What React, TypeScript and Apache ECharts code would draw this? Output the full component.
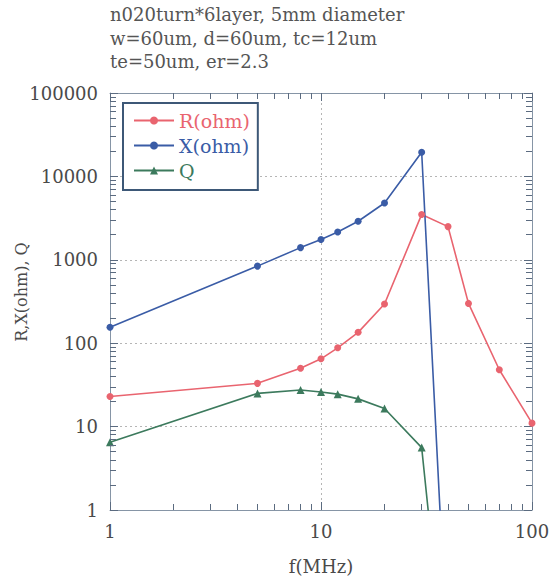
import React, { useEffect, useRef } from "react";
import * as echarts from "echarts";

const freqMHz = [1, 5, 8, 10, 12, 15, 20, 30, 40, 50, 70, 100];
const rOhm = [23, 33, 50, 65, 88, 135, 295, 3500, 2500, 300, 48, 11];
const xOhm = [155, 840, 1400, 1750, 2150, 2900, 4800, 19500, 0.013];
const qVal = [6.5, 25, 27.5, 26, 24.5, 21.5, 16.5, 5.6, 0.005];

const titleLines = [
  "n020turn*6layer, 5mm diameter",
  "w=60um, d=60um, tc=12um",
  "te=50um, er=2.3",
];
const yAxisName = "R,X(ohm), Q";
const xAxisName = "f(MHz)";
const xTickLabels = ["1", "10", "100"];
const yTickLabels = ["1", "10", "100", "1000", "10000", "100000"];
const xMinorTicks = [2, 3, 4, 5, 6, 7, 8, 9, 20, 30, 40, 50, 60, 70, 80, 90];
const yMinorTicks = [
  2, 3, 4, 5, 6, 7, 8, 9,
  20, 30, 40, 50, 60, 70, 80, 90,
  200, 300, 400, 500, 600, 700, 800, 900,
  2000, 3000, 4000, 5000, 6000, 7000, 8000, 9000,
  20000, 30000, 40000, 50000, 60000, 70000, 80000, 90000,
];

const RED = "#e9646f";
const BLUE = "#3a5ca6";
const GREEN = "#3c7a5d";
const AXIS = "#8695a6";
const TICK = "#5b6b80";
const FONT = "DejaVu Serif";

const pairs = (vals: number[]) => vals.map((v, i) => [freqMHz[i], v]);

export default function App() {
  const ref = useRef<HTMLDivElement>(null);
  useEffect(() => {
    if (!ref.current) return;
    const chart = echarts.init(ref.current, null, { renderer: "svg" });
    const xMin = 1, xMax = 100, yMin = 1, yMax = 100000;
    // minor tick lengths expressed as multiplicative factors on the log axes (~6px)
    const kY = Math.pow(10, 6 / 83.4);
    const kX = Math.pow(10, 6 / 211);
    const tickLines: any[] = [];
    xMinorTicks.forEach((v) => {
      tickLines.push([{ coord: [v, yMin] }, { coord: [v, yMin * kY] }]);
      tickLines.push([{ coord: [v, yMax] }, { coord: [v, yMax / kY] }]);
    });
    yMinorTicks.forEach((v) => {
      tickLines.push([{ coord: [xMin, v] }, { coord: [xMin * kX, v] }]);
      tickLines.push([{ coord: [xMax, v] }, { coord: [xMax / kX, v] }]);
    });
    const logAxisCommon = {
      type: "log" as const,
      logBase: 10,
      axisLine: { show: true, lineStyle: { color: AXIS, width: 1 } },
      axisTick: { show: true, inside: true, length: 8, lineStyle: { color: TICK } },
    };
    chart.setOption({
      animation: false,
      backgroundColor: "#ffffff",
      title: {
        text: titleLines.join("\n"),
        left: 110,
        top: 3,
        padding: 0,
        textStyle: {
          fontFamily: FONT,
          fontSize: 18,
          fontWeight: "normal",
          color: "#555555",
          lineHeight: 23.5,
        },
      },
      graphic: [
        {
          type: "text",
          x: 21,
          y: 292,
          rotation: Math.PI / 2,
          style: {
            text: yAxisName,
            fontFamily: FONT,
            fontSize: 16,
            fill: "#4a4a4a",
            align: "center",
            verticalAlign: "middle",
          },
        },
      ],
      legend: {
        orient: "vertical",
        left: 123,
        top: 103,
        padding: [8, 8, 10, 10],
        itemGap: 6,
        itemWidth: 40,
        itemHeight: 10,
        borderColor: "#3d5877",
        borderWidth: 2,
        backgroundColor: "#ffffff",
        textStyle: { fontFamily: FONT, fontSize: 19, lineHeight: 19 },
        data: [
          { name: "R(ohm)", textStyle: { color: RED } },
          { name: "X(ohm)", textStyle: { color: BLUE } },
          { name: "Q", textStyle: { color: GREEN } },
        ],
      },
      grid: { left: 110, right: 22, top: 93, bottom: 76 },
      xAxis: [
        {
          ...logAxisCommon,
          min: xMin,
          max: xMax,
          position: "bottom",
          name: xAxisName,
          nameLocation: "middle",
          nameGap: 47,
          nameTextStyle: { fontFamily: FONT, fontSize: 18, color: "#4a4a4a" },
          axisLabel: {
            fontFamily: FONT,
            fontSize: 18,
            color: "#4a4a4a",
            margin: 12,
            formatter: (v: number) => xTickLabels[Math.round(Math.log10(v))] ?? "",
          },
          splitLine: { show: true, lineStyle: { color: "#b5b5b5", type: [2, 3], width: 1 } },
        },
        {
          ...logAxisCommon,
          min: xMin,
          max: xMax,
          position: "top",
          axisLabel: { show: false },
          splitLine: { show: false },
        },
      ],
      yAxis: [
        {
          ...logAxisCommon,
          min: yMin,
          max: yMax,
          position: "left",
          axisLabel: {
            fontFamily: FONT,
            fontSize: 18,
            color: "#4a4a4a",
            margin: 12,
            formatter: (v: number) => yTickLabels[Math.round(Math.log10(v))] ?? "",
          },
          splitLine: { show: true, lineStyle: { color: "#b5b5b5", type: [2, 3], width: 1 } },
        },
        {
          ...logAxisCommon,
          min: yMin,
          max: yMax,
          position: "right",
          axisLabel: { show: false },
          splitLine: { show: false },
        },
      ],
      series: [
        {
          name: "R(ohm)",
          type: "line",
          data: pairs(rOhm),
          symbol: "circle",
          symbolSize: 7,
          clip: true,
          itemStyle: { color: RED },
          lineStyle: { color: RED, width: 1.6 },
          markLine: {
            silent: true,
            symbol: "none",
            animation: false,
            label: { show: false },
            emphasis: { disabled: true },
            lineStyle: { color: TICK, width: 1, type: "solid" },
            data: tickLines,
          },
        },
        {
          name: "X(ohm)",
          type: "line",
          data: pairs(xOhm),
          symbol: "circle",
          symbolSize: 7,
          clip: true,
          itemStyle: { color: BLUE },
          lineStyle: { color: BLUE, width: 1.6 },
        },
        {
          name: "Q",
          type: "line",
          data: pairs(qVal),
          symbol: "triangle",
          symbolSize: 8,
          clip: true,
          itemStyle: { color: GREEN },
          lineStyle: { color: GREEN, width: 1.6 },
        },
      ],
    });
    return () => chart.dispose();
  }, []);
  return (
    <div
      ref={ref}
      style={{ position: "fixed", left: 0, top: 0, width: 554, height: 586 }}
    />
  );
}
